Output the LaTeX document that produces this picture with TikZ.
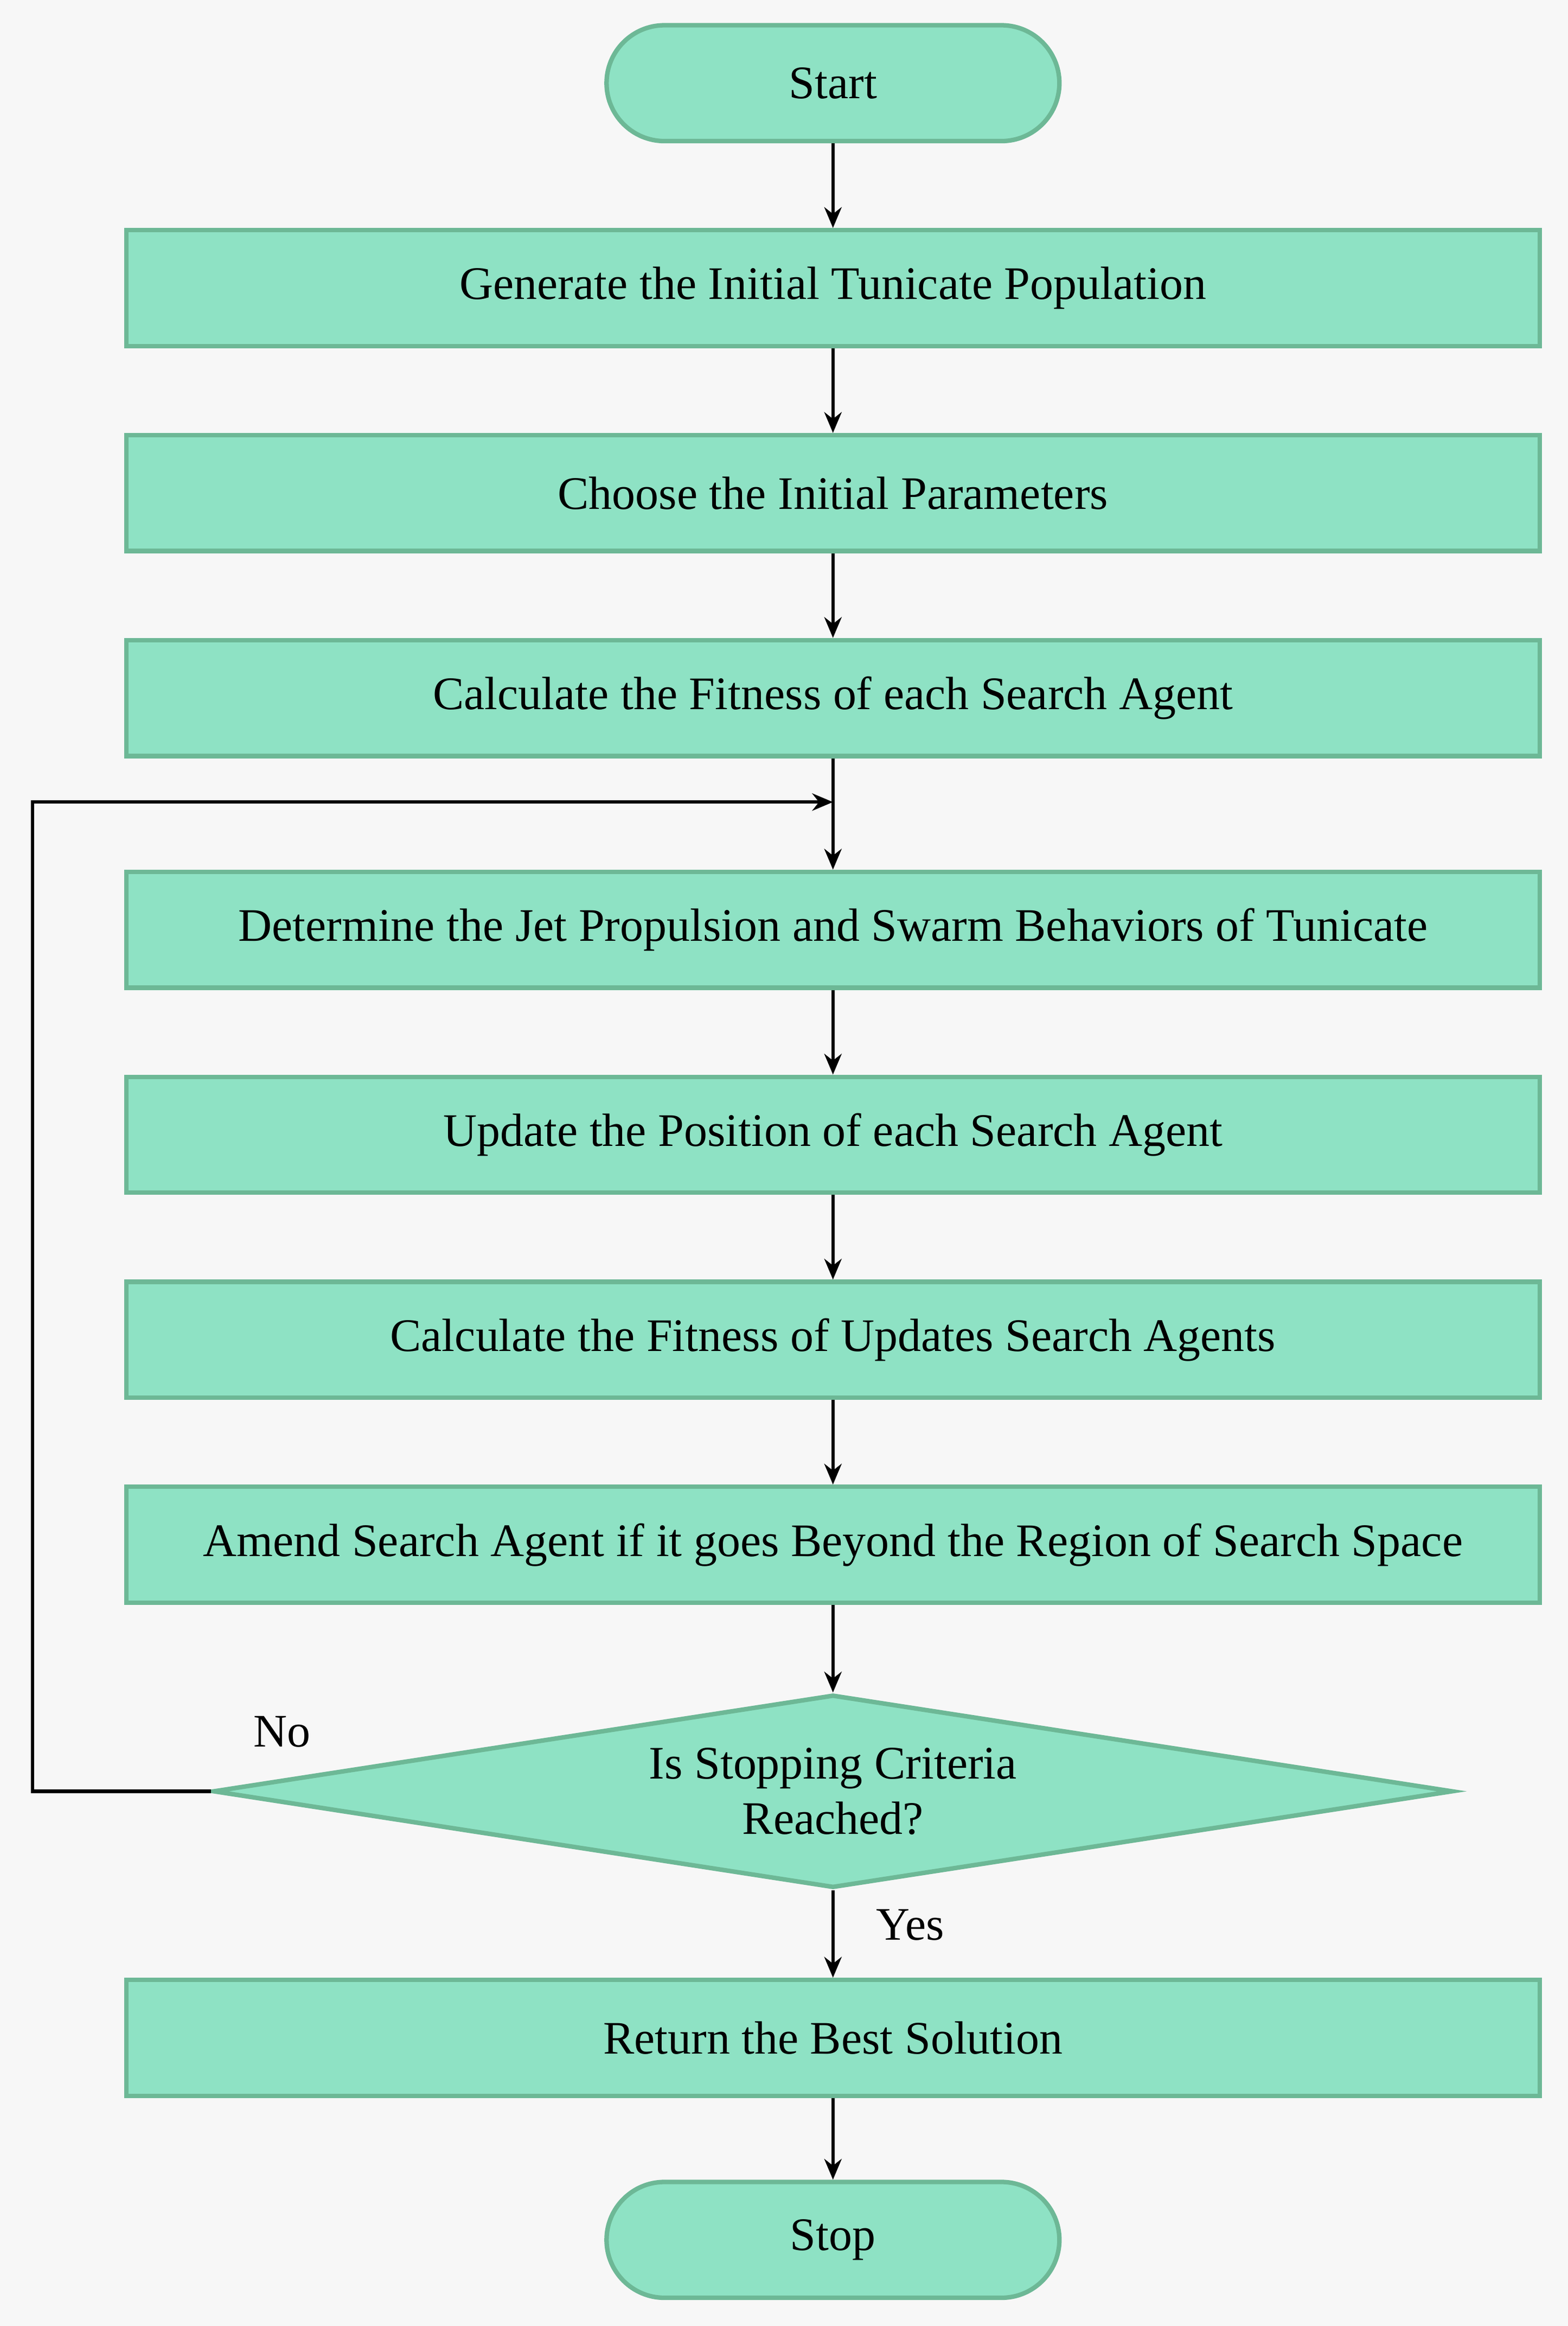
\documentclass[tikz,border=0pt]{standalone}
\usepackage{fontspec}
\setmainfont{Liberation Serif}
\usetikzlibrary{shapes.geometric,arrows.meta}
\definecolor{fillg}{HTML}{8EE2C4}
\definecolor{edgeg}{HTML}{6DB896}
\begin{document}
\begin{tikzpicture}[x=0.43pt,y=-0.43pt,
  every node/.style={font=\fontsize{13.5}{16}\selectfont},
  box/.style={draw=edgeg,fill=fillg,line width=1.3pt,minimum width=952*0.43pt,minimum height=78*0.43pt,inner sep=0pt},
  term/.style={draw=edgeg,fill=fillg,line width=1.3pt,rounded corners=39*0.43pt,minimum width=305*0.43pt,minimum height=78*0.43pt},
  dec/.style={draw=edgeg,fill=fillg,line width=1.3pt,diamond,aspect=6.4,minimum width=835*0.43pt,minimum height=130*0.43pt,inner sep=0pt,align=center},
  arr/.style={-{Stealth[length=6pt,width=5pt]},line width=1pt}]
\fill[white!97!black] (0,0) rectangle (1056,1566);
\node[term] (start) at (561,56) {Start};
\node[box] (b1) at (561,194) {Generate the Initial Tunicate Population};
\node[box] (b2) at (561,332) {Choose the Initial Parameters};
\node[box] (b3) at (561,470) {Calculate the Fitness of each Search Agent};
\node[box] (b4) at (561,626) {Determine the Jet Propulsion and Swarm Behaviors of Tunicate};
\node[box] (b5) at (561,764) {Update the Position of each Search Agent};
\node[box] (b6) at (561,902) {Calculate the Fitness of Updates Search Agents};
\node[box] (b7) at (561,1040) {Amend Search Agent if it goes Beyond the Region of Search Space};
\node[dec] (d) at (561,1206) {Is Stopping Criteria\\Reached?};
\node[box] (b8) at (561,1372) {Return the Best Solution};
\node[term] (stop) at (561,1508) {Stop};
\coordinate (m) at (561,540);
\coordinate (c1) at (22,1206);
\coordinate (c2) at (22,540);
\draw[arr] (start) -- (b1);
\draw[arr] (b1) -- (b2);
\draw[arr] (b2) -- (b3);
\draw[arr] (b3) -- (b4);
\draw[arr] (b4) -- (b5);
\draw[arr] (b5) -- (b6);
\draw[arr] (b6) -- (b7);
\draw[arr] (b7) -- (d);
\draw[arr] (d) -- (b8);
\draw[arr] (b8) -- (stop);
\draw[arr] (d.west) -- (c1) -- (c2) -- (m);
\node at (190,1166) {No};
\node at (613,1296) {Yes};
\end{tikzpicture}
\end{document}
